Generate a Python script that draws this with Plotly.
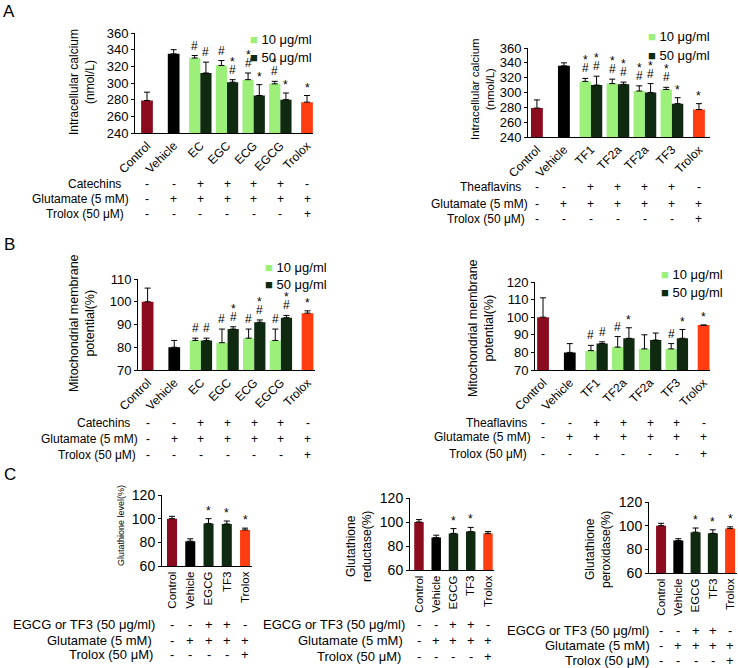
import plotly.graph_objects as go

W, H = 738, 668
FONT = "Liberation Sans, Arial, sans-serif"

C_CTRL = "#8a0c1e"
C_VEH = "#000000"
C_LOW = "#9cf07a"
C_HIGH = "#0f2a10"
C_TRO = "#ff3d10"

# ---------------- data ----------------
# Panel A (intracellular calcium, nmol/L)
A1_cats = ["Control", "Vehicle", "EC", "EGC", "ECG", "EGCG", "Trolox"]
A1_single_vals = [279, 335, 277]      # Control, Vehicle, Trolox
A1_single_errs = [10, 5, 8]
A1_single_marks = ["", "", "*"]
A1_low_vals = [330, 321, 304, 299]    # 10 μg/ml
A1_low_errs = [3, 6, 8, 3]
A1_low_marks = ["#", "#", "*#", "*#"]
A1_high_vals = [312, 301, 285, 280]   # 50 μg/ml
A1_high_errs = [13, 3, 13, 8]
A1_high_marks = ["#", "*#", "*", "*"]

A2_cats = ["Control", "Vehicle", "TF1", "TF2a", "TF2a", "TF3", "Trolox"]
A2_single_vals = [279, 336, 277]
A2_single_errs = [11, 4, 8]
A2_single_marks = ["", "", "*"]
A2_low_vals = [315, 312, 302, 304]
A2_low_errs = [4, 6, 7, 3]
A2_low_marks = ["*#", "*#", "*#", "*#"]
A2_high_vals = [310, 311, 300, 285]
A2_high_errs = [12, 3, 12, 8]
A2_high_marks = ["*#", "*#", "*#", "*"]

# Panel B (mitochondrial membrane potential, %)
B1_cats = A1_cats
B1_single_vals = [100, 80, 95]
B1_single_errs = [6, 3, 1]
B1_single_marks = ["", "", "*"]
B1_low_vals = [83, 82, 84, 83]
B1_low_errs = [1, 6, 4, 5]
B1_low_marks = ["#", "#", "#", "#"]
B1_high_vals = [83, 88, 91, 93]
B1_high_errs = [1, 1, 1, 1]
B1_high_marks = ["#", "*#", "*#", "*#"]

B2_cats = A2_cats
B2_single_vals = [100, 80, 95.5]
B2_single_errs = [11, 5, 0]
B2_single_marks = ["", "", "*"]
B2_low_vals = [81, 83, 82, 82]
B2_low_errs = [3, 6, 8, 3]
B2_low_marks = ["#", "#", "", "#"]
B2_high_vals = [85, 88, 87, 88]
B2_high_errs = [1, 6, 4, 5]
B2_high_marks = ["#", "*", "", "*"]

# Panel C (glutathione)
C_cats = ["Control", "Vehicle", "EGCG", "TF3", "Trolox"]
C1_vals = [100, 81, 96, 95.5, 90.5]
C1_errs = [2, 2, 4, 2.5, 1.5]
C1_marks = ["", "", "*", "*", "*"]
C2_vals = [100, 87, 90.5, 92, 90.5]
C2_errs = [2, 2, 4, 3.5, 1.5]
C2_marks = ["", "", "*", "*", ""]
C3_vals = [100, 87.5, 94.5, 93.5, 97.5]
C3_errs = [2, 1.5, 3.5, 3, 1.5]
C3_marks = ["", "", "*", "*", "*"]

# treatment rows
AB_row_extract = ["-", "-", "+", "+", "+", "+", "-"]
AB_row_glut = ["-", "+", "+", "+", "+", "+", "+"]
AB_row_trolox = ["-", "-", "-", "-", "-", "-", "+"]
C_row_extract = ["-", "-", "+", "+", "-"]
C_row_glut = ["-", "+", "+", "+", "+"]
C_row_trolox = ["-", "-", "-", "-", "+"]

legend_low = "10 μg/ml"
legend_high = "50 μg/ml"

# ---------------- layout helpers ----------------
fig = go.Figure()
annotations = []


def px(x):
    return x / W


def py(y):
    return 1 - y / H


def ann(text, x, y, size=12, xanchor="center", yanchor="middle", angle=0,
        xref="paper", yref="paper", yshift=0, color="black"):
    annotations.append(dict(text=text, x=x, y=y, xref=xref, yref=yref,
                            xanchor=xanchor, yanchor=yanchor, textangle=angle,
                            showarrow=False, yshift=yshift,
                            font=dict(family=FONT, size=size, color=color)))


def add_marks(i, xs, tops, marks, size=12):
    for x, t, m in zip(xs, tops, marks):
        if not m:
            continue
        if m == "*":
            ann("*", x, t, size=size, yanchor="bottom", xref=f"x{i}", yref=f"y{i}", yshift=-1)
        elif m == "#":
            ann("#", x, t, size=size, yanchor="bottom", xref=f"x{i}", yref=f"y{i}", yshift=1)
        else:
            ann("#", x, t, size=size, yanchor="bottom", xref=f"x{i}", yref=f"y{i}", yshift=1)
            ann("*", x, t, size=size, yanchor="bottom", xref=f"x{i}", yref=f"y{i}", yshift=9)


def bar(i, xs, vals, errs, colors, width):
    fig.add_trace(go.Bar(
        x=xs, y=vals, width=width, marker=dict(color=colors, line=dict(width=0)),
        error_y=dict(type="data", symmetric=False, array=errs,
                     arrayminus=[0] * len(errs), color="black", thickness=1, width=3),
        xaxis=f"x{i}", yaxis=f"y{i}", showlegend=False, hoverinfo="skip"))


def setup_axes(i, domx, domy, xr, yr, dtick, cats, tickangle, tsize, csize):
    fig.layout[f"xaxis{i}"] = dict(
        domain=[px(domx[0]), px(domx[1])], range=list(xr), anchor=f"y{i}",
        showline=True, linecolor="black", linewidth=1, ticks="", showgrid=False,
        zeroline=False, tickvals=list(range(len(cats))), ticktext=cats, automargin=False,
        tickangle=tickangle, tickfont=dict(family=FONT, size=csize, color="black"))
    fig.layout[f"yaxis{i}"] = dict(
        domain=[py(domy[1]), py(domy[0])], range=list(yr), anchor=f"x{i}",
        showline=True, linecolor="black", linewidth=1, ticks="outside", ticklen=3,
        tickcolor="black", dtick=dtick, tick0=yr[0], showgrid=False, zeroline=False,
        automargin=False, tickfont=dict(family=FONT, size=tsize, color="black"))


def paired_panel(i, cats, sv, se, sm, lv, le, lm, hv, he, hm, domx, domy, xr, yr, dtick,
                 tsize=13, off=0.21, wpair=0.42, wsingle=0.44):
    setup_axes(i, domx, domy, xr, yr, dtick, cats, -45, tsize, 12)
    sx = [0, 1, len(cats) - 1]
    bar(i, sx, sv, se, [C_CTRL, C_VEH, C_TRO], wsingle)
    gx = list(range(2, len(cats) - 1))
    lx = [g - off for g in gx]
    hx = [g + off for g in gx]
    bar(i, lx, lv, le, C_LOW, wpair)
    bar(i, hx, hv, he, C_HIGH, wpair)
    add_marks(i, sx, [v + e for v, e in zip(sv, se)], sm)
    add_marks(i, lx, [v + e for v, e in zip(lv, le)], lm)
    add_marks(i, hx, [v + e for v, e in zip(hv, he)], hm)


def rows(i, labels, label_ends, ys, rowdata, size=12):
    for lab, xe, y, signs in zip(labels, label_ends, ys, rowdata):
        ann(lab, px(xe), py(y), size=size, xanchor="right")
        for k, s in enumerate(signs):
            ann(s, k, py(y), size=size, xref=f"x{i}")


def legend(x, y1, y2, size=13):
    ann(f"<span style='color:{C_LOW}'>■</span> {legend_low}", px(x), py(y1), size=size, xanchor="left")
    ann(f"<span style='color:{C_HIGH}'>■</span> {legend_high}", px(x), py(y2), size=size, xanchor="left")


# ---------------- Panel A ----------------
paired_panel(1, A1_cats, A1_single_vals, A1_single_errs, A1_single_marks,
             A1_low_vals, A1_low_errs, A1_low_marks, A1_high_vals, A1_high_errs, A1_high_marks,
             (135, 313), (33, 133), (-0.45, 6.225), (240, 360), 20)
paired_panel(2, A2_cats, A2_single_vals, A2_single_errs, A2_single_marks,
             A2_low_vals, A2_low_errs, A2_low_marks, A2_high_vals, A2_high_errs, A2_high_marks,
             (528, 710), (48, 137), (-0.33, 6.41), (240, 360), 20)
ann("Intracellular calcium<br>(nmol/L)", px(82), py(82), size=12, angle=-90)
ann("Intracellular calcium<br>(nmol/L)", px(482), py(89), size=11.5, angle=-90)
legend(248, 39, 58)
legend(646, 37, 55)
rows(1, ["Catechins", "Glutamate (5 mM)", "Trolox (50 μM)"], [123, 131, 126], [184, 199, 214],
     [AB_row_extract, AB_row_glut, AB_row_trolox])
rows(2, ["Theaflavins", "Glutamate (5 mM)", "Trolox (50 μM)"], [523, 530, 527], [187, 204, 219],
     [AB_row_extract, AB_row_glut, AB_row_trolox])

# ---------------- Panel B ----------------
paired_panel(3, B1_cats, B1_single_vals, B1_single_errs, B1_single_marks,
             B1_low_vals, B1_low_errs, B1_low_marks, B1_high_vals, B1_high_errs, B1_high_marks,
             (138, 315), (279, 370), (-0.36, 6.28), (70, 110), 10)
paired_panel(4, B2_cats, B2_single_vals, B2_single_errs, B2_single_marks,
             B2_low_vals, B2_low_errs, B2_low_marks, B2_high_vals, B2_high_errs, B2_high_marks,
             (535, 710), (282, 370), (-0.3, 6.24), (70, 120), 10)
ann("Mitochondrial membrane<br>potential(%)", px(82), py(323), size=12.5, angle=-90)
ann("Mitochondrial membrane<br>potential(%)", px(481), py(328), size=12.5, angle=-90)
legend(263, 268, 284)
legend(659, 274, 292)
rows(3, ["Catechins", "Glutamate (5 mM)", "Trolox (50 μM)"], [132, 140, 138], [423, 439, 455],
     [AB_row_extract, AB_row_glut, AB_row_trolox])
rows(4, ["Theaflavins", "Glutamate (5 mM)", "Trolox (50 μM)"], [529, 533, 529], [423, 437, 454],
     [AB_row_extract, AB_row_glut, AB_row_trolox])

# ---------------- Panel C ----------------
C_colors = [C_CTRL, C_VEH, C_HIGH, C_HIGH, C_TRO]
c_specs = [
    (5, C1_vals, C1_errs, C1_marks, (162, 252), (495, 566), (-0.548, 4.38), 0.55),
    (6, C2_vals, C2_errs, C2_marks, (410, 494), (498, 570), (-0.52, 4.35), 0.55),
    (7, C3_vals, C3_errs, C3_marks, (649, 737), (502, 573), (-0.7, 4.4), 0.58),
]
for i, vals, errs, marks, dx, dy, xr, w in c_specs:
    setup_axes(i, dx, dy, xr, (60, 120), 20, C_cats, -90, 14, 11.5)
    xs = list(range(len(C_cats)))
    bar(i, xs, vals, errs, C_colors, w)
    add_marks(i, xs, [v + e for v, e in zip(vals, errs)], marks)

ann("Glutathione level(%)", px(121), py(526), size=9, angle=-90)
ann("Glutathione<br>reductase(%)", px(359), py(547), size=12, angle=-90)
ann("Glutathione<br>peroxidase(%)", px(598), py(550), size=12, angle=-90)
c_labels = ["EGCG or TF3 (50 μg/ml)", "Glutamate (5 mM)", "Trolox (50 μM)"]
c_rows = [C_row_extract, C_row_glut, C_row_trolox]
rows(5, c_labels, [157, 154, 155], [624, 640, 654], c_rows, size=13)
rows(6, c_labels, [407, 405, 403], [624, 640, 656], c_rows, size=13)
rows(7, c_labels, [651, 652, 651], [630, 645, 660], c_rows, size=13)

# panel letters
ann("A", px(9), py(11), size=17)
ann("B", px(9), py(245), size=17)
ann("C", px(10), py(474), size=17)

fig.update_layout(
    template="none",
    width=W, height=H, margin=dict(l=0, r=0, t=0, b=0, pad=0, autoexpand=False),
    paper_bgcolor="white", plot_bgcolor="white", barmode="overlay",
    annotations=annotations, showlegend=False,
    font=dict(family=FONT, color="black"),
)
fig.write_html(
    "out.html",
    config={"displayModeBar": False},
    post_script="document.body.style.margin='0px';document.body.style.overflow='hidden';",
)
